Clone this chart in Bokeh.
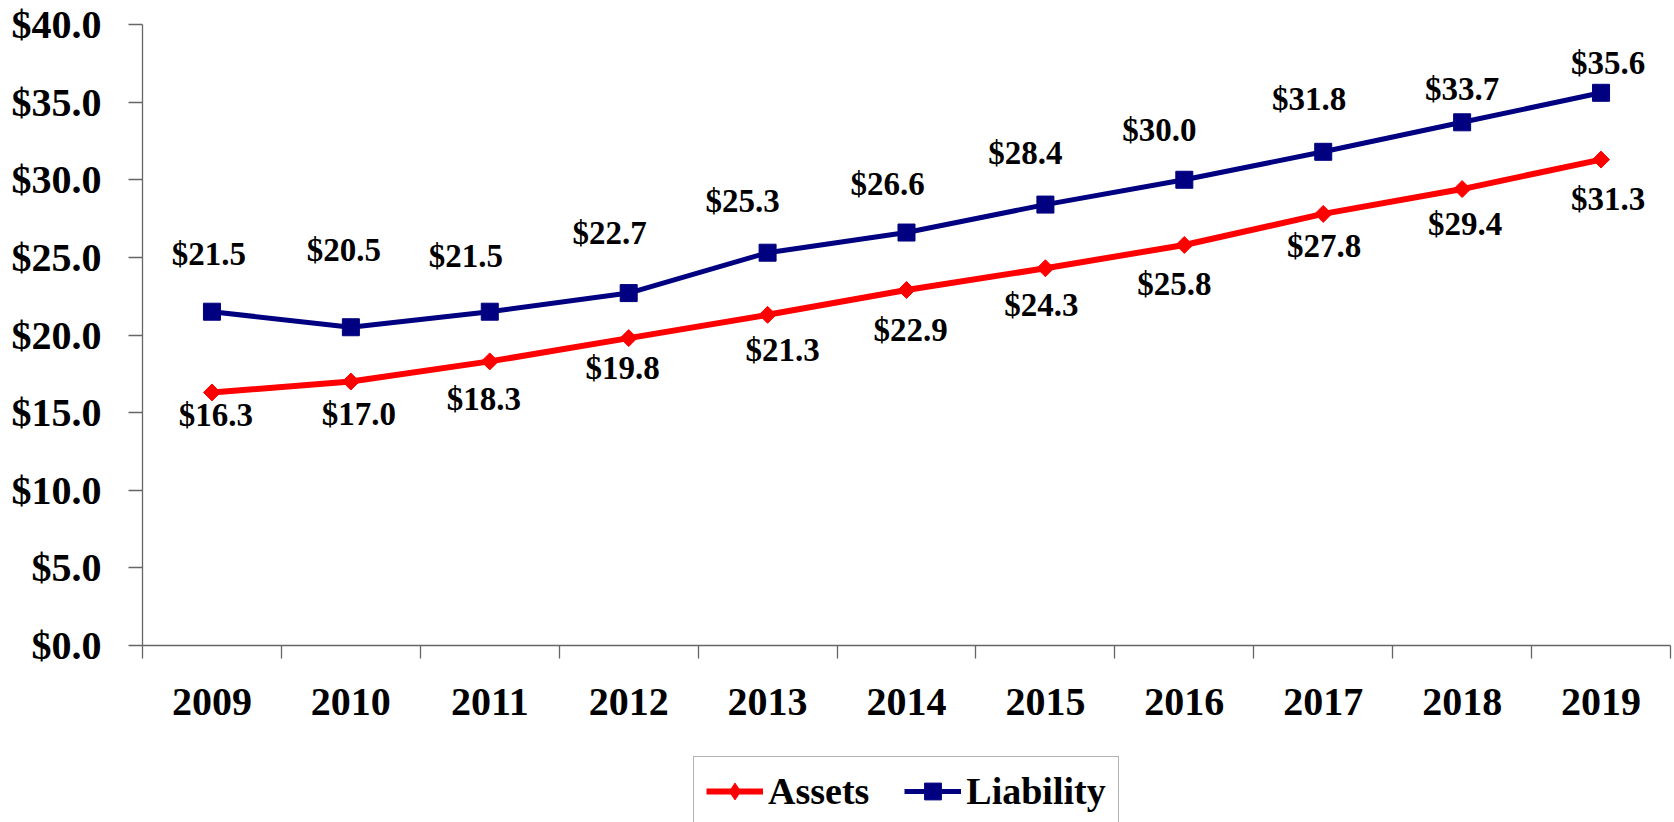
import numpy as np
from bokeh.plotting import figure
from bokeh.layouts import column
from bokeh.models import (Range1d, FixedTicker, NumeralTickFormatter, Legend, LegendItem,
                          ColumnDataSource)
from bokeh.core.properties import value
from bokeh.embed import file_html
from bokeh.resources import INLINE

# ---- data ----
years = ["2009", "2010", "2011", "2012", "2013", "2014", "2015", "2016", "2017", "2018", "2019"]
assets = [16.3, 17.0, 18.3, 19.8, 21.3, 22.9, 24.3, 25.8, 27.8, 29.4, 31.3]
liability = [21.5, 20.5, 21.5, 22.7, 25.3, 26.6, 28.4, 30.0, 31.8, 33.7, 35.6]
y_ticks = [0, 5, 10, 15, 20, 25, 30, 35, 40]
series_names = ["Assets", "Liability"]

# label placement (screen pixels, hand-placed as in the original)
assets_label_dx = [4, 8, -6, -6, 15, 4, -4, -10, 1, 3, 7]
assets_label_dy = [23, 32, 38, 30, 35, 40, 37, 39, 32, 35, 39]
liab_label_dx = [-3, -7, -24, -19, -25, -19, -20, -25, -14, 0, 7]
liab_label_dy = [-58, -77, -56, -60, -52, -49, -52, -50, -53, -33, -30]

FONT_NAME = "Liberation Serif"
RED = "#FF0000"
NAVY = "#000080"
AXIS_GRAY = "#666666"
W = 1674
H_MAIN = 755
H_LEG = 67

n = len(years)
xs = list(range(n))

p = figure(width=W, height=H_MAIN, output_backend="svg", toolbar_location=None,
           x_range=Range1d(-0.5, n - 0.5), y_range=Range1d(0, 40),
           min_border_left=142, min_border_right=4, min_border_top=24, min_border_bottom=110)
p.outline_line_color = None
p.xgrid.grid_line_color = None
p.ygrid.grid_line_color = None
p.background_fill_color = "white"
p.border_fill_color = "white"

# y axis
p.yaxis.ticker = FixedTicker(ticks=y_ticks, minor_ticks=[])
p.yaxis.formatter = NumeralTickFormatter(format="$0.0")
p.yaxis.major_label_text_font = FONT_NAME
p.yaxis.major_label_text_font_style = "bold"
p.yaxis.major_label_text_font_size = "40px"
p.yaxis.major_label_text_color = "black"
p.yaxis.major_label_standoff = 27
p.yaxis.major_tick_out = 14
p.yaxis.major_tick_in = 0
p.yaxis.minor_tick_line_color = None
p.yaxis.axis_line_color = AXIS_GRAY
p.yaxis.axis_line_width = 1.3
p.yaxis.major_tick_line_color = AXIS_GRAY
p.yaxis.major_tick_line_width = 1.3

# x axis: labels at category centres, tick marks at category boundaries
p.xaxis.ticker = FixedTicker(ticks=xs, minor_ticks=[i - 0.5 for i in range(n + 1)])
p.xaxis.major_label_overrides = {i: y for i, y in zip(xs, years)}
p.xaxis.major_label_text_font = FONT_NAME
p.xaxis.major_label_text_font_style = "bold"
p.xaxis.major_label_text_font_size = "40px"
p.xaxis.major_label_text_color = "black"
p.xaxis.major_label_standoff = 30
p.xaxis.major_tick_out = 13
p.xaxis.major_tick_in = 0
p.xaxis.major_tick_line_color = None
p.xaxis.minor_tick_out = 13
p.xaxis.minor_tick_in = 0
p.xaxis.minor_tick_line_color = AXIS_GRAY
p.xaxis.minor_tick_line_width = 1.3
p.xaxis.axis_line_color = AXIS_GRAY
p.xaxis.axis_line_width = 1.3

src_a = ColumnDataSource(dict(x=xs, y=assets, lab=[f"${v:.1f}" for v in assets],
                              dx=assets_label_dx, dy=assets_label_dy))
src_l = ColumnDataSource(dict(x=xs, y=liability, lab=[f"${v:.1f}" for v in liability],
                              dx=liab_label_dx, dy=liab_label_dy))

line_a = dict(line_color=RED, line_width=6)
mark_a = dict(marker="square", angle=np.pi / 4, size=12, fill_color=RED, line_color=RED)
line_l = dict(line_color=NAVY, line_width=5)
mark_l = dict(marker="square", size=17, fill_color=NAVY, line_color=NAVY)

p.line("x", "y", source=src_a, **line_a)
p.scatter("x", "y", source=src_a, **mark_a)
p.line("x", "y", source=src_l, **line_l)
p.scatter("x", "y", source=src_l, **mark_l)

for src in (src_a, src_l):
    p.text("x", "y", text="lab", source=src, x_offset="dx", y_offset="dy",
           text_font=value(FONT_NAME), text_font_style="bold", text_font_size="33px",
           text_color="black", text_align="center", text_baseline="middle")

# ---- legend strip: its own small figure directly under the chart ----
# (same series, but its y range lies below the data, so only the legend shows)
q = figure(width=W, height=H_LEG, output_backend="svg", toolbar_location=None,
           x_range=Range1d(-0.5, n - 0.5), y_range=Range1d(0, 1),
           x_axis_type=None, y_axis_type=None,
           min_border_left=0, min_border_right=0, min_border_top=0, min_border_bottom=0)
q.outline_line_color = None
q.xgrid.grid_line_color = None
q.ygrid.grid_line_color = None
q.background_fill_color = "white"
q.border_fill_color = "white"

qla = q.line("x", "y", source=src_a, **line_a)
qsa = q.scatter("x", "y", source=src_a, marker="diamond", size=17, fill_color=RED, line_color=RED)
qll = q.line("x", "y", source=src_l, **line_l)
qsl = q.scatter("x", "y", source=src_l, **mark_l)

legend = Legend(items=[LegendItem(label=series_names[0], renderers=[qla, qsa]),
                       LegendItem(label=series_names[1], renderers=[qll, qsl])],
                orientation="horizontal", location=(551, -4))
legend.label_text_font = FONT_NAME
legend.label_text_font_style = "bold"
legend.label_text_font_size = "38px"
legend.label_text_color = "black"
legend.glyph_width = 57
legend.glyph_height = 42
legend.label_standoff = 5
legend.spacing = 35
legend.padding = 12
legend.border_line_color = AXIS_GRAY
legend.border_line_width = 1.3
legend.background_fill_color = "white"
legend.background_fill_alpha = 1
q.add_layout(legend, "center")

layout = column(p, q, spacing=0)
open("out.html", "w").write(file_html(layout, INLINE))
